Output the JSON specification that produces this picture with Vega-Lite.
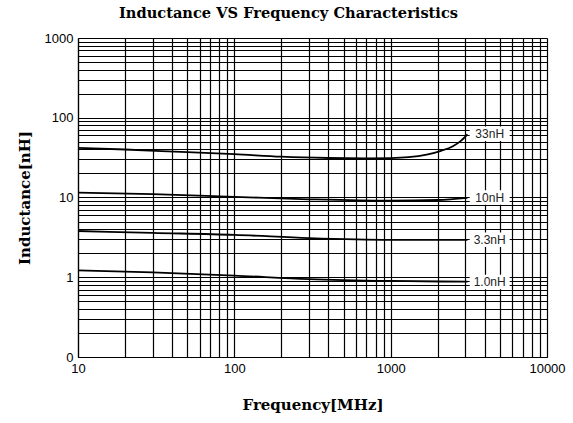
{
  "$schema": "https://vega.github.io/schema/vega-lite/v6.json",
  "width": 469,
  "height": 319,
  "autosize": "none",
  "padding": {"left": 78, "top": 38, "right": 26, "bottom": 66},
  "background": "white",
  "title": {
    "text": "Inductance VS Frequency Characteristics",
    "font": "DejaVu Serif",
    "fontSize": 14.6,
    "fontWeight": "bold",
    "color": "#000",
    "anchor": "middle",
    "dx": -24,
    "offset": 11
  },
  "config": {
    "view": {"stroke": null},
    "axis": {
      "gridColor": "#000",
      "gridOpacity": 1,
      "gridWidth": 1.2,
      "domainColor": "#000",
      "domainWidth": 1.2,
      "ticks": false,
      "labelFont": "Liberation Sans",
      "labelFontSize": 13,
      "labelColor": "#000",
      "titleFont": "DejaVu Serif",
      "titleFontSize": 15,
      "titleFontWeight": "bold",
      "titleColor": "#000",
      "labelOverlap": false,
      "labelFlush": false,
      "labelBound": false
    }
  },
  "datasets": {
    "curves": [
      {"series": "33nH", "f": 10, "L": 42},
      {"series": "33nH", "f": 20, "L": 40},
      {"series": "33nH", "f": 50, "L": 37},
      {"series": "33nH", "f": 100, "L": 35},
      {"series": "33nH", "f": 200, "L": 32.5},
      {"series": "33nH", "f": 400, "L": 31.3},
      {"series": "33nH", "f": 700, "L": 31},
      {"series": "33nH", "f": 1000, "L": 31.2},
      {"series": "33nH", "f": 1300, "L": 32},
      {"series": "33nH", "f": 1700, "L": 34.5},
      {"series": "33nH", "f": 2100, "L": 38.5},
      {"series": "33nH", "f": 2500, "L": 44},
      {"series": "33nH", "f": 2800, "L": 51},
      {"series": "33nH", "f": 3100, "L": 62},
      {"series": "10nH", "f": 10, "L": 11.5},
      {"series": "10nH", "f": 30, "L": 11},
      {"series": "10nH", "f": 100, "L": 10.2},
      {"series": "10nH", "f": 300, "L": 9.5},
      {"series": "10nH", "f": 1000, "L": 9.1},
      {"series": "10nH", "f": 2000, "L": 9.3},
      {"series": "10nH", "f": 3100, "L": 9.9},
      {"series": "3.3nH", "f": 10, "L": 3.8},
      {"series": "3.3nH", "f": 30, "L": 3.6},
      {"series": "3.3nH", "f": 100, "L": 3.4},
      {"series": "3.3nH", "f": 300, "L": 3.1},
      {"series": "3.3nH", "f": 1000, "L": 2.95},
      {"series": "3.3nH", "f": 3100, "L": 2.95},
      {"series": "1.0nH", "f": 10, "L": 1.22},
      {"series": "1.0nH", "f": 30, "L": 1.15},
      {"series": "1.0nH", "f": 100, "L": 1.05},
      {"series": "1.0nH", "f": 300, "L": 0.95},
      {"series": "1.0nH", "f": 1000, "L": 0.9},
      {"series": "1.0nH", "f": 3100, "L": 0.88}
    ],
    "labels": [
      {"series": "33nH", "f": 4300, "L": 63},
      {"series": "10nH", "f": 4300, "L": 10},
      {"series": "3.3nH", "f": 4300, "L": 2.95},
      {"series": "1.0nH", "f": 4300, "L": 0.87}
    ]
  },
  "layer": [
    {
      "data": {"name": "curves"},
      "mark": {"type": "line", "color": "#000", "strokeWidth": 1.8, "interpolate": "monotone"},
      "encoding": {
        "x": {
          "field": "f", "type": "quantitative",
          "scale": {"type": "log", "domain": [10, 10000], "nice": false},
          "axis": {
            "title": "Frequency[MHz]",
            "values": [10,20,30,40,50,60,70,80,90,100,200,300,400,500,600,700,800,900,1000,2000,3000,4000,5000,6000,7000,8000,9000,10000],
            "format": "d",
            "labelExpr": "indexof([10,100,1000,10000], datum.value) >= 0 ? datum.label : ''",
            "labelPadding": 5,
            "titlePadding": 22
          }
        },
        "y": {
          "field": "L", "type": "quantitative",
          "scale": {"type": "log", "domain": [0.1, 1000], "nice": false},
          "axis": {
            "title": "Inductance[nH]",
            "values": [0.1,0.2,0.3,0.4,0.5,0.6,0.7,0.8,0.9,1,2,3,4,5,6,7,8,9,10,20,30,40,50,60,70,80,90,100,200,300,400,500,600,700,800,900,1000],
            "labelExpr": "datum.value == 0.1 ? '0' : (indexof([1,10,100,1000], datum.value) >= 0 ? format(datum.value, 'd') : '')",
            "labelPadding": 5,
            "titlePadding": 12
          }
        },
        "detail": {"field": "series"}
      }
    },
    {
      "data": {"name": "labels"},
      "mark": {"type": "point", "shape": "M-1,-0.36L1,-0.36L1,0.36L-1,0.36Z", "filled": true, "color": "white", "fillOpacity": 1, "opacity": 1, "strokeWidth": 0, "size": 1600},
      "encoding": {
        "x": {"field": "f", "type": "quantitative"},
        "y": {"field": "L", "type": "quantitative"}
      }
    },
    {
      "data": {"name": "labels"},
      "mark": {"type": "text", "font": "Liberation Sans", "fontSize": 12, "color": "#222", "align": "center", "baseline": "middle"},
      "encoding": {
        "x": {"field": "f", "type": "quantitative"},
        "y": {"field": "L", "type": "quantitative"},
        "text": {"field": "series"}
      }
    }
  ]
}
